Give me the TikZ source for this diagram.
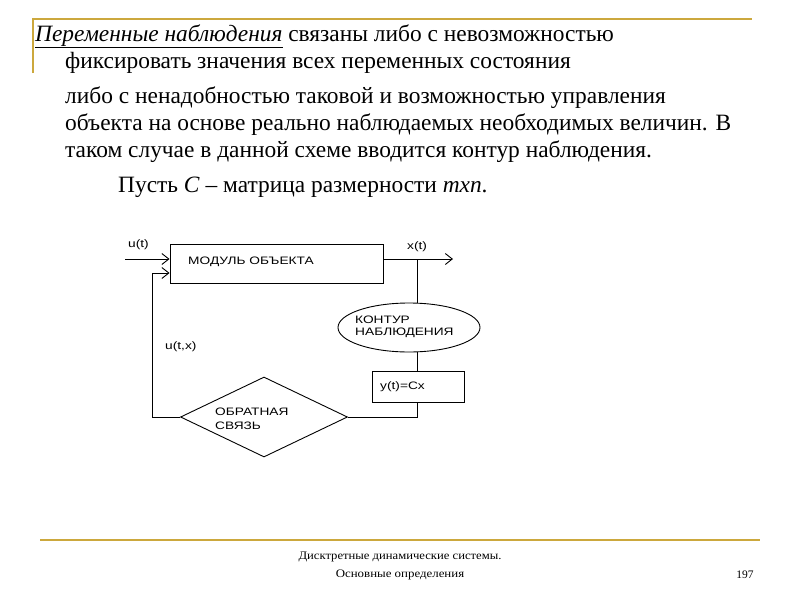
\documentclass[tikz,border=0pt]{standalone}
\usepackage{fontspec}
\setmainfont{Liberation Serif}
\newfontfamily\arialf{Liberation Sans}
\usetikzlibrary{shapes.geometric,arrows.meta}
\definecolor{gold}{rgb}{0.80,0.66,0.24}
\newcommand{\widelab}[1]{\scalebox{1.27}[1]{#1}}
\tikzset{
  txt/.style={anchor=base west,inner sep=0pt,font=\fontsize{23.4}{27}\selectfont},
  foot/.style={inner sep=0pt,font=\fontsize{11.5}{13}\selectfont},
  lab/.style={inner sep=0pt,anchor=west,font=\arialf\fontsize{10.8}{11.5}\selectfont},
  blk/.style={draw,line width=0.9pt},
  wire/.style={line width=0.9pt},
  arr/.style={wire,-{Straight Barb[length=7pt,width=11pt,line width=0.9pt]}},
  goldline/.style={gold,line width=2pt}
}
\begin{document}
\begin{tikzpicture}[x=1pt,y=-1pt]
\useasboundingbox (0,0) rectangle (800,600);
% decoration lines
\coordinate (g1) at (33,19); \coordinate (g2) at (752,19); \coordinate (g3) at (33,73);
\draw[goldline] (g3) -- (g1) -- (g2);
\coordinate (b1) at (40,540); \coordinate (b2) at (760,540);
\draw[goldline] (b1) -- (b2);
% text
\node[txt] (l1) at (35,41) {\underline{\textit{Переменные наблюдения}} связаны либо с невозможностью};
\node[txt] (l2) at (65,68) {фиксировать значения всех переменных состояния};
\node[txt] (l3) at (65,103) {либо с ненадобностью таковой и возможностью управления};
\node[txt] (l4) at (65,130) {объекта на основе реально наблюдаемых необходимых величин. В};
\node[txt] (l5) at (65,157) {таком случае в данной схеме вводится контур наблюдения.};
\node[txt] (l6) at (118,192) {Пусть \textit{C} – матрица размерности \textit{mxn}.};
% footer
\node[foot] (f1) at (400,557) {\scalebox{1.1}[1]{Дисктретные динамические системы.}};
\node[foot] (f2) at (400,575) {\scalebox{1.12}[1]{Основные определения}};
\node[foot] (f3) at (745,575) {197};
% diagram
\node[blk,minimum width=213pt,minimum height=39pt] (obj) at (276.5,263.5) {};
\node[lab] (objt) at (188,262) {\widelab{МОДУЛЬ ОБЪЕКТА}};
\node[blk,ellipse,minimum width=142pt,minimum height=49pt] (obs) at (409,327.5) {};
\node[lab,anchor=base west] (obst1) at (355,323) {\widelab{КОНТУР}};
\node[lab,anchor=base west] (obst2) at (355,335) {\widelab{НАБЛЮДЕНИЯ}};
\node[blk,minimum width=92pt,minimum height=31pt] (yc) at (418,386.5) {};
\node[lab] (yct) at (380,387) {\widelab{y(t)=Cx}};
\node[blk,diamond,minimum width=167pt,minimum height=80pt,inner sep=0pt] (fb) at (264,417) {};
\node[lab] (fbt1) at (215,412) {\widelab{ОБРАТНАЯ}};
\node[lab] (fbt2) at (215,426) {\widelab{СВЯЗЬ}};
\node[lab] (ut) at (128,245) {\widelab{u(t)}};
\node[lab] (xt) at (407,247) {\widelab{x(t)}};
\node[lab] (utx) at (165,347) {\widelab{u(t,x)}};
\coordinate (in0) at (125,259);
\coordinate (out1) at (453,259);
\coordinate (tap) at (417,259);
\draw[arr] (in0) -- (in0 -| obj.west);
\draw[arr] (obj.east |- tap) -- (out1);
\draw[wire] (tap) -- (tap |- obs.north);
\draw[wire] (tap |- obs.south) -- (tap |- yc.north);
\draw[wire] (tap |- yc.south) -- (tap |- fb.east) -- (fb.east);
\coordinate (fbl) at (152,417);
\coordinate (fbt) at (152,273);
\draw[arr] (fb.west) -- (fbl) -- (fbt) -- (fbt -| obj.west);
\end{tikzpicture}
\end{document}
